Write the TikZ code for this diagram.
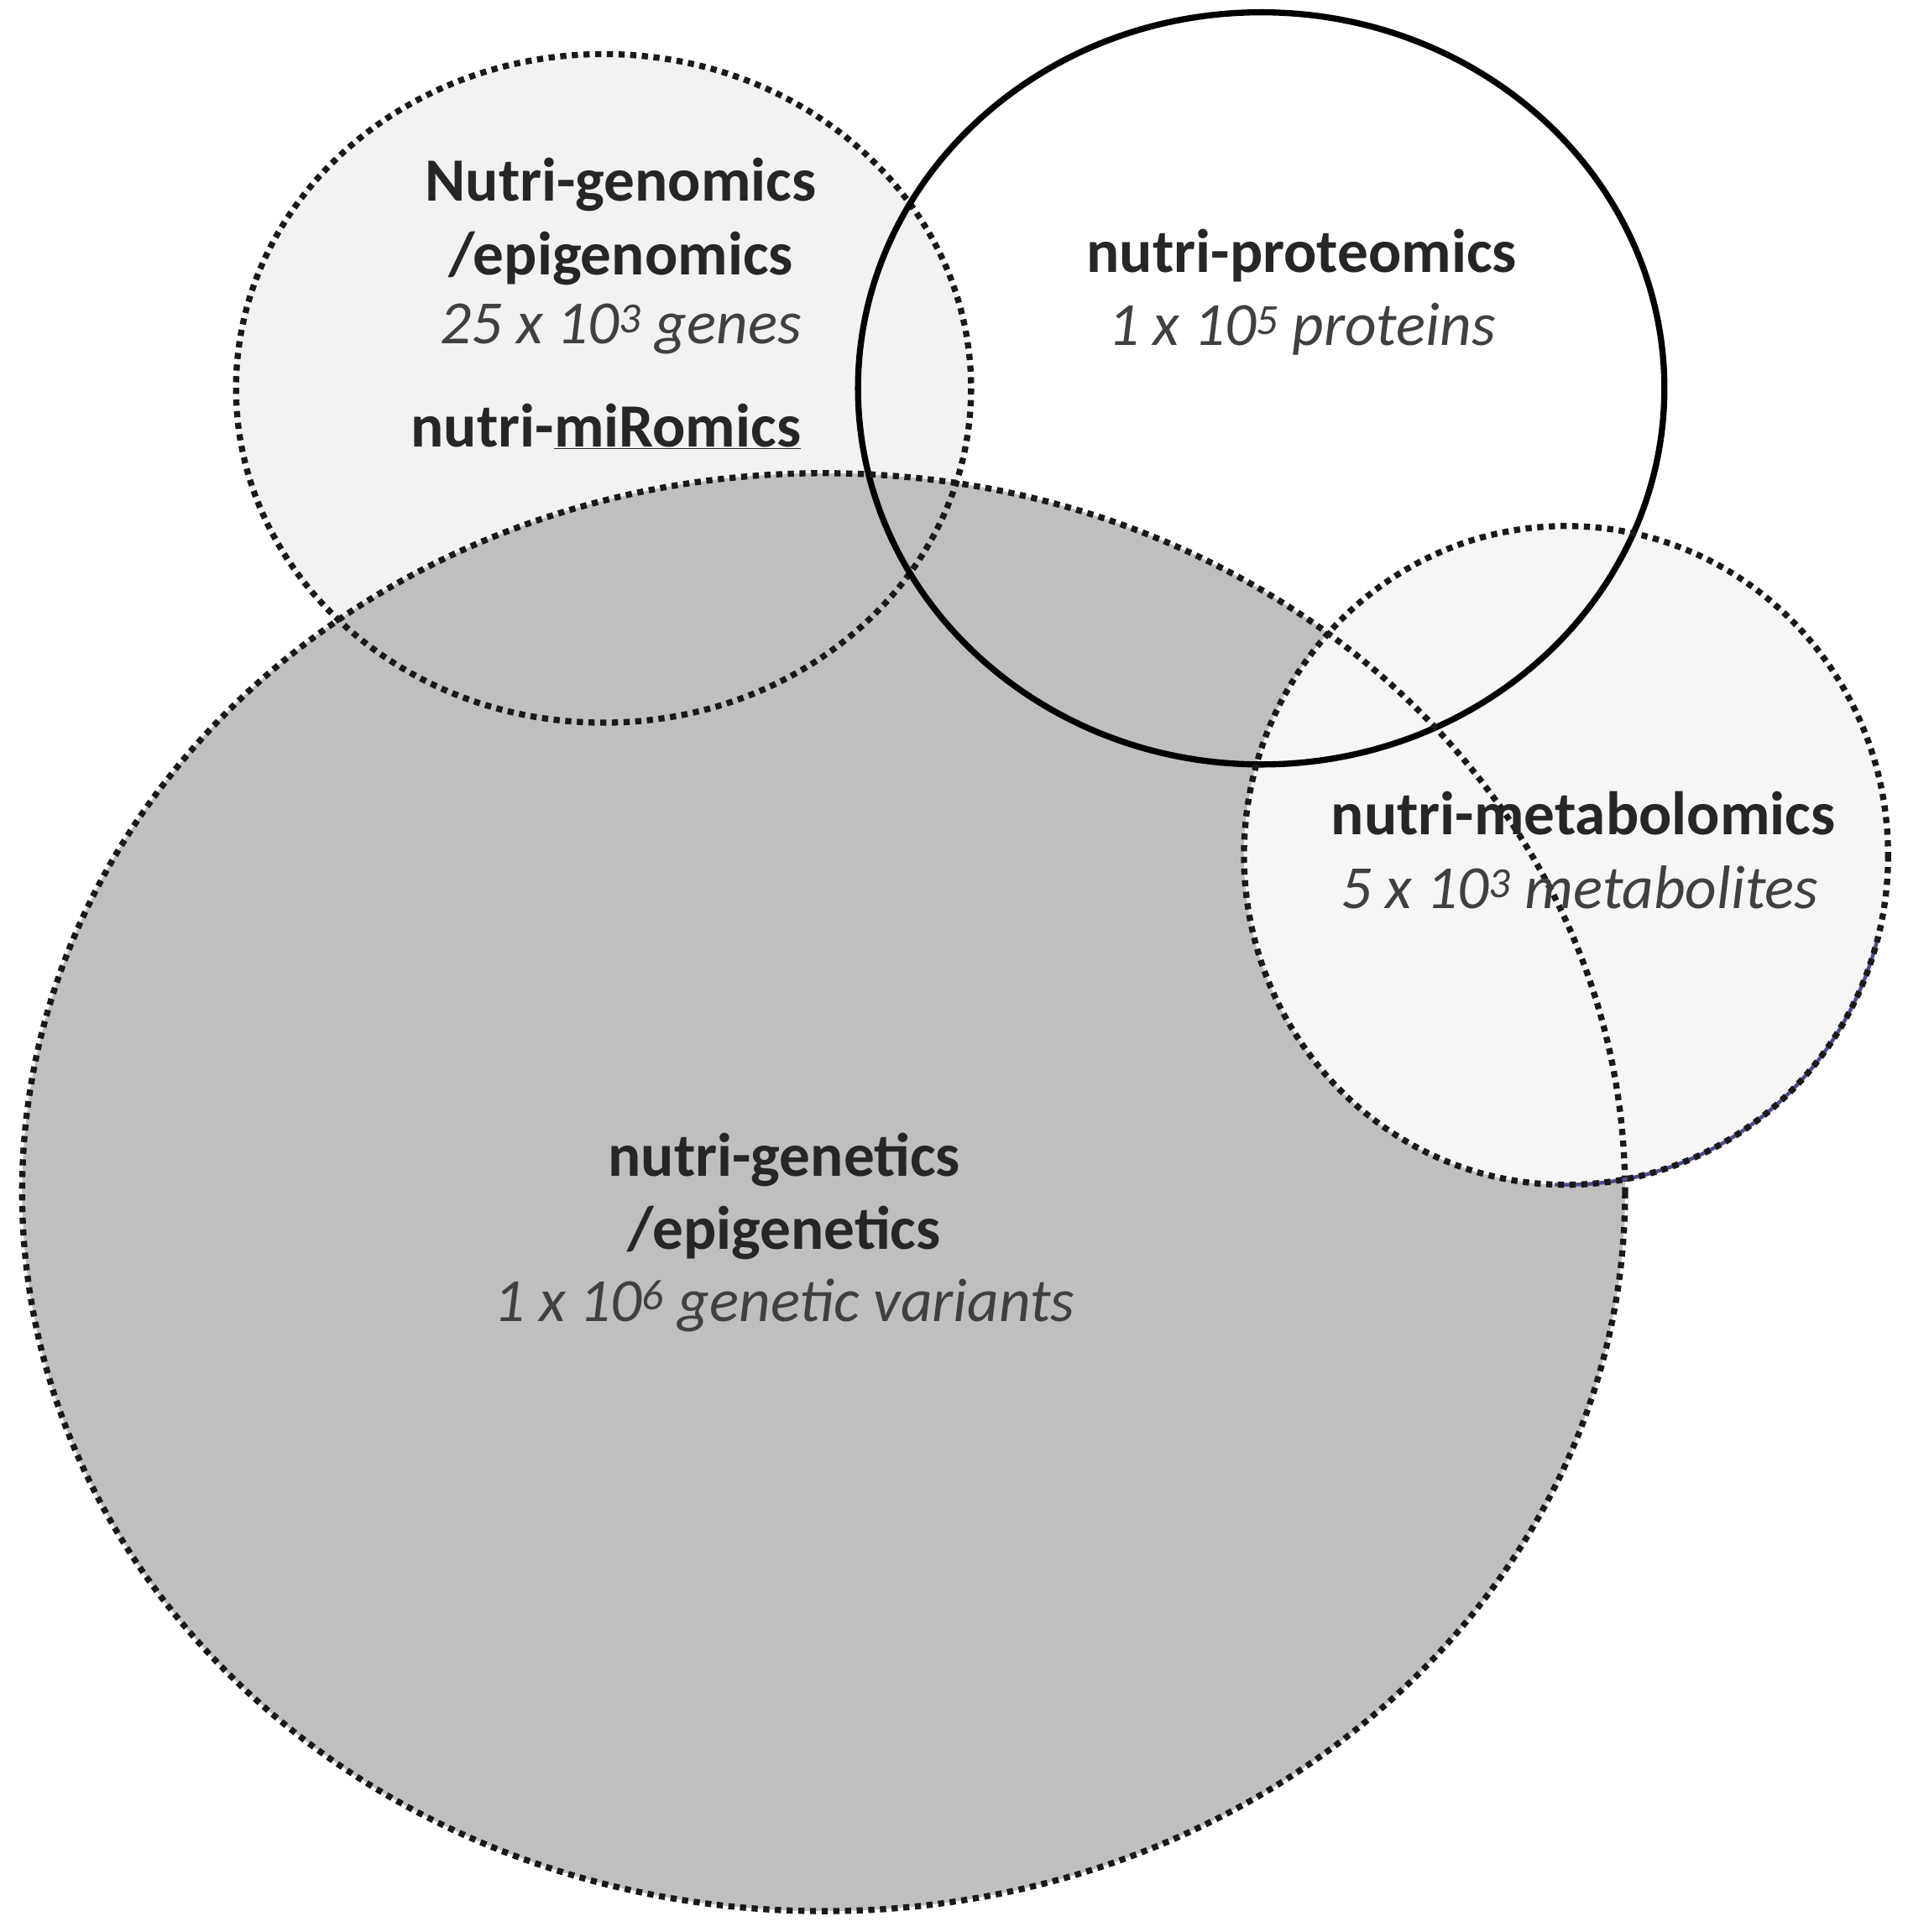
\documentclass[tikz,border=0pt]{standalone}
\usepackage{fontspec}
\setmainfont{Carlito}
\begin{document}
\begin{tikzpicture}[x=1pt,y=-1pt,
  dotb/.style={draw=black!90,line width=5pt,dash pattern=on 5pt off 4.5pt},
  lab/.style={font=\fontsize{50}{58}\selectfont\bfseries,text=black!85},
  sub/.style={font=\fontsize{50}{58}\selectfont\itshape,text=black!75}]
\useasboundingbox (0,0) rectangle (1552,1572);
\fill[white] (0,0) rectangle (1552,1572);
% fills
\fill[white] (1026,316) ellipse [x radius=328,y radius=306];
\fill[gray!10] (491,316) ellipse [x radius=299,y radius=272];
\fill[gray!50] (670,970) ellipse [x radius=652,y radius=585];
\fill[gray!7] (1274,696) ellipse [x radius=262,y radius=268];
% borders
\draw[dotb] (491,316) ellipse [x radius=299,y radius=272];
\draw[black,line width=5pt] (1026,316) ellipse [x radius=328,y radius=306];
\draw[dotb] (670,970) ellipse [x radius=652,y radius=585];
\draw[blue!40!black!70,line width=3pt] (1274,696) ++({262*cos(15)},{268*sin(15)}) arc[start angle=15,end angle=92,x radius=262,y radius=268];
\draw[dotb] (1274,696) ellipse [x radius=262,y radius=268];
% texts
\node[lab] (g1) at (505,150) {Nutri-genomics};
\node[lab] (g2) at (505,210) {/epigenomics};
\node[sub] (g3) at (505,268) {25 x 10\textsuperscript{3} genes};
\node[lab] (g4) at (493,347) {nutri-\underline{miRomics}};
\node[lab] (p1) at (1059,208) {nutri-proteomics};
\node[sub] (p2) at (1059,268) {1 x 10\textsuperscript{5} proteins};
\node[lab] (m1) at (1288,662) {nutri-metabolomics};
\node[sub] (m2) at (1285,722) {5 x 10\textsuperscript{3} metabolites};
\node[lab] (e1) at (638,944) {nutri-genetics};
\node[lab] (e2) at (638,1003) {/epigenetics};
\node[sub] (e3) at (638,1062) {1 x 10\textsuperscript{6} genetic variants};
\end{tikzpicture}
\end{document}
